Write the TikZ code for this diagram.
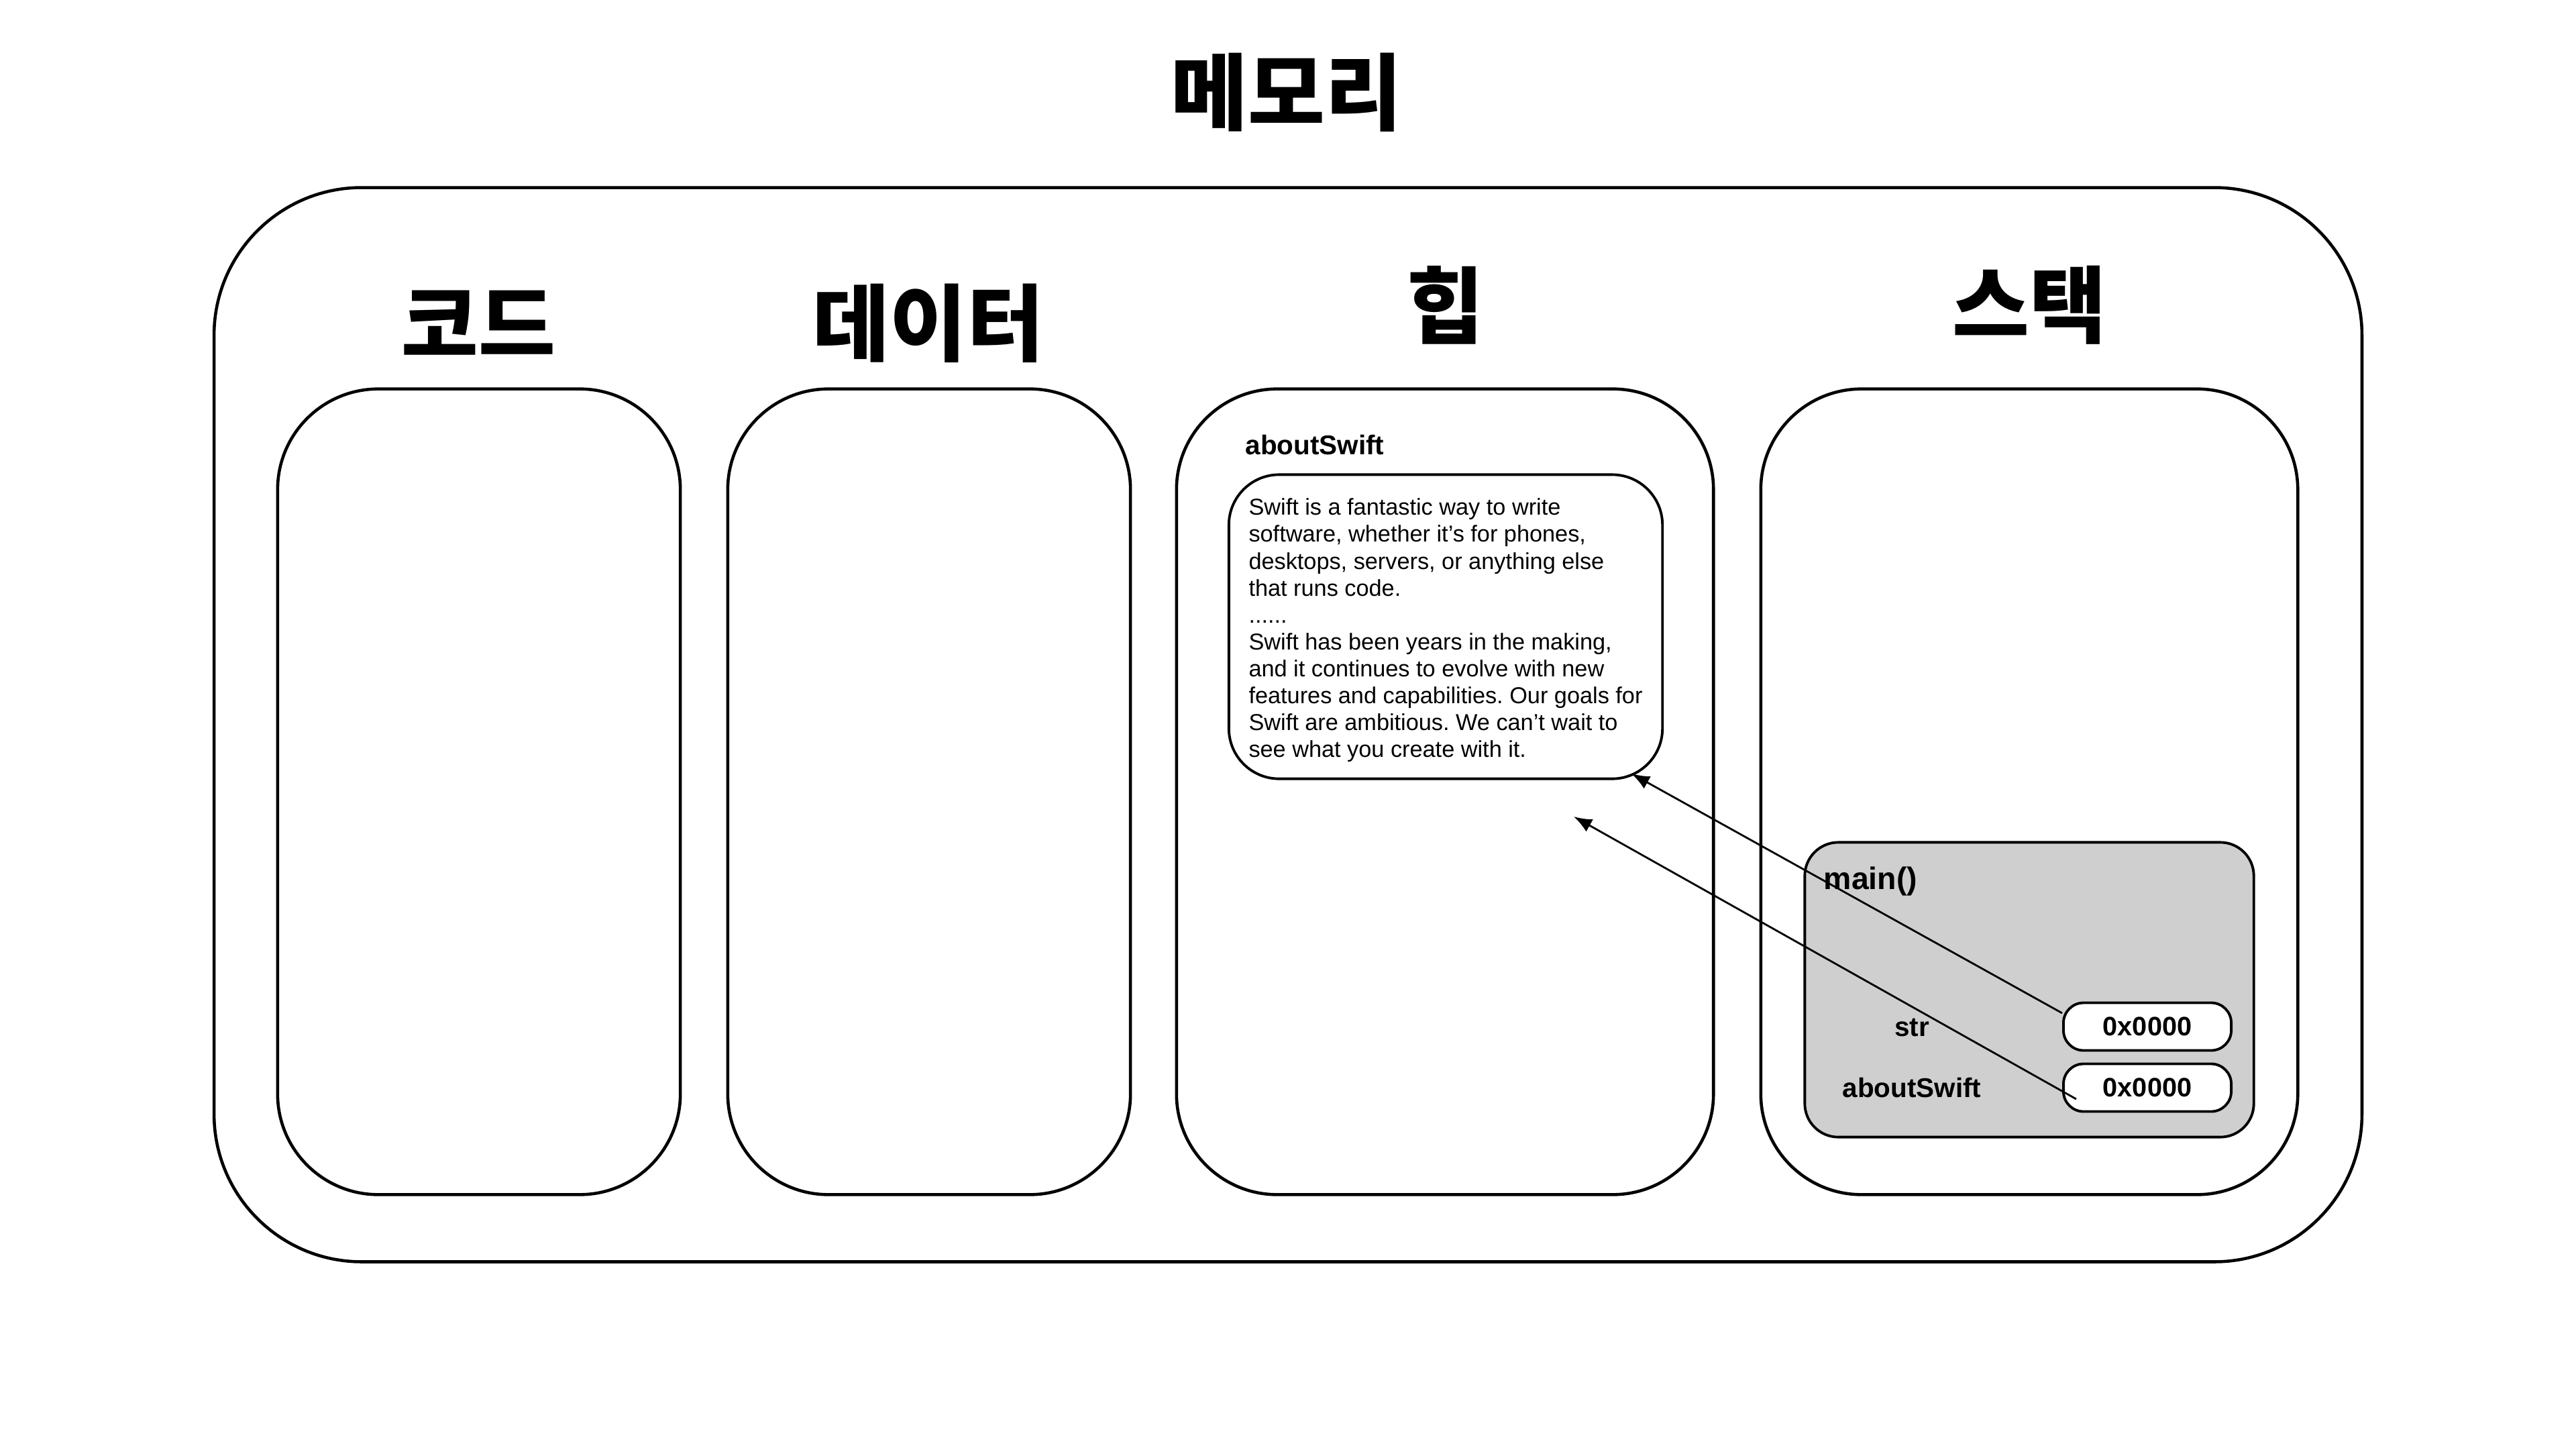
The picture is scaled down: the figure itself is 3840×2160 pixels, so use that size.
\documentclass[tikz,border=0pt]{standalone}
\usepackage{fontspec}
\setmainfont{Liberation Sans}
\newfontfamily\krfont{Noto Sans CJK KR}
\usetikzlibrary{arrows.meta}
\definecolor{frameGray}{RGB}{207,207,207}
\frenchspacing

\begin{document}
\begin{tikzpicture}[x=0.01cm,y=-0.01cm,
  region/.style={draw,line width=1.3pt,rounded corners=1.5cm},
  heading/.style={font=\krfont\bfseries\fontsize{35.5}{42}\selectfont},
  varname/.style={inner sep=0pt,font=\bfseries\fontsize{11.5}{13}\selectfont},
  ptrbox/.style={draw,fill=white,line width=1.1pt,rounded corners=0.3cm,minimum width=2.5cm,minimum height=0.71cm,inner sep=0pt,font=\bfseries\fontsize{11.3}{13}\selectfont},
  ptrarrow/.style={line width=0.8pt,-{Latex[length=0.27cm,width=0.21cm]}}]
\useasboundingbox (0,0) rectangle (3840,2160);
\node[region,rounded corners=2.2cm,minimum width=32cm,minimum height=16cm] (memory) at (1920,1080) {};
\node[heading] (memtitle) at (1918,138) {메모리};
\node[region,minimum width=6cm,minimum height=12cm] (code) at (714,1180) {};
\node[region,minimum width=6cm,minimum height=12cm] (data) at (1385,1180) {};
\node[region,minimum width=8cm,minimum height=12cm] (heap) at (2154,1180) {};
\node[region,minimum width=8cm,minimum height=12cm] (stack) at (3025,1180) {};
\node[heading] (codetitle) at (713,481) {코드};
\node[heading] (datatitle) at (1384,482) {데이터};
\node[heading] (heaptitle) at (2155,455) {힙};
\node[heading] (stacktitle) at (3025,455) {스택};
\node[varname,anchor=west] (heapvar) at (1856,663) {aboutSwift};
\node[draw,line width=1.1pt,rounded corners=0.75cm,minimum width=6.46cm,minimum height=4.53cm,
  align=left,font=\fontsize{9.75}{11.38}\selectfont] (swifttext) at (2155,934)
  {\rule{0pt}{10pt}Swift is a fantastic way to write\\
   software, whether it’s for phones,\\
   desktops, servers, or anything else\\
   that runs code.\\
   ......\\
   Swift has been years in the making,\\
   and it continues to evolve with new\\
   features and capabilities. Our goals for\\
   Swift are ambitious. We can’t wait to\\
   see what you create with it.};
\node[draw,fill=frameGray,line width=1.1pt,rounded corners=0.5cm,minimum width=6.69cm,minimum height=4.39cm] (mainframe) at (3025,1475) {};
\node[inner sep=0pt,anchor=west,font=\bfseries\fontsize{13.2}{15}\selectfont] (mainname) at (2718,1313) {main()};
\node[varname] (strname) at (2850,1531) {str};
\node[varname] (aboutname) at (2850,1621) {aboutSwift};
\node[ptrbox] (strptr) at (3201,1530) {0x0000};
\node[ptrbox] (aboutptr) at (3201,1621) {0x0000};
\coordinate (strtip) at (2432,1153);
\coordinate (abouttip) at (2346,1217);
\draw[ptrarrow] (strptr.171) -- (strtip);
\draw[ptrarrow] ([shift={(-106,17)}]aboutptr.center) -- (abouttip);
\end{tikzpicture}
\end{document}
